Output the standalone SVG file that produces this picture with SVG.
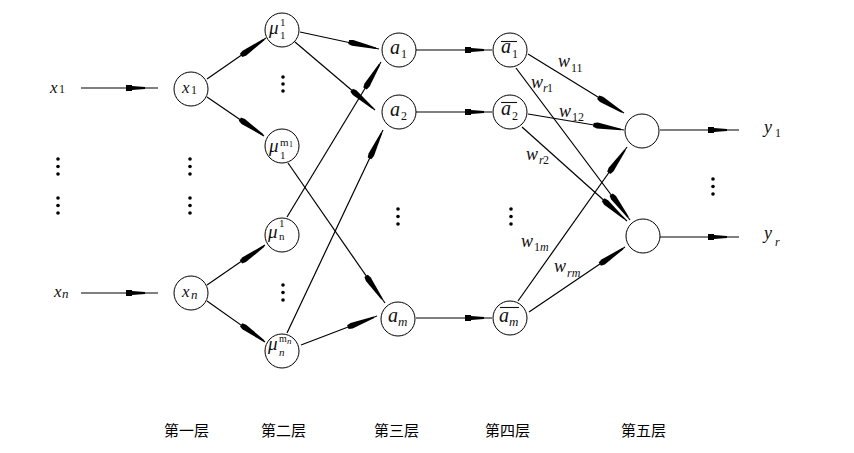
<svg xmlns="http://www.w3.org/2000/svg" xmlns:xlink="http://www.w3.org/1999/xlink" width="854" height="453" viewBox="0 0 854 453">
<style>
.ln{stroke:#000;stroke-width:1.2;fill:none}
.nd{fill:#fff;stroke:#000;stroke-width:1}
.v{font-family:"Liberation Serif",serif;font-style:italic;fill:#111}
.u{font-family:"Liberation Serif",serif;fill:#111}
.dot{fill:#000}
.cjk{font-family:"Noto Sans CJK SC",sans-serif;font-size:15px;fill:#000}
.ov{stroke:#111;stroke-width:1.1}
</style>
<defs>
<path id="ah" d="M-19,-3 H-13 V-2 L0,-0.9 V0.9 L-13,2 V3 H-19 Z" fill="#000"/>
<path id="ad" d="M-28,-2 L-24,-3 L0,-0.8 V0.8 L-24,3 L-28,2 Z" fill="#000"/>
</defs>
<rect width="854" height="453" fill="#fff"/>
<g id="connectors">
<line class="ln" x1="81" y1="88" x2="158" y2="88"/><use xlink:href="#ah" transform="translate(145,88)"/>
<line class="ln" x1="81" y1="293" x2="158" y2="293"/><use xlink:href="#ah" transform="translate(145,293)"/>
<line class="ln" x1="207" y1="79" x2="266" y2="38"/><use xlink:href="#ad" transform="translate(264,39.5) rotate(-34.8)"/>
<line class="ln" x1="207" y1="97" x2="264" y2="136"/><use xlink:href="#ad" transform="translate(263,135) rotate(34.4)"/>
<line class="ln" x1="207" y1="285" x2="265" y2="245"/><use xlink:href="#ad" transform="translate(264,246) rotate(-34.6)"/>
<line class="ln" x1="207" y1="301" x2="265" y2="342"/><use xlink:href="#ad" transform="translate(264,341) rotate(35.3)"/>
<line class="ln" x1="300" y1="32" x2="379" y2="49"/><use xlink:href="#ad" transform="translate(376,48.3) rotate(12.9)"/>
<line class="ln" x1="295" y1="42" x2="375" y2="110"/><use xlink:href="#ad" transform="translate(373,108.3) rotate(40.4)"/>
<line class="ln" x1="287" y1="217" x2="381" y2="62"/><use xlink:href="#ad" transform="translate(379.5,64.5) rotate(-58.8)"/>
<line class="ln" x1="288" y1="163" x2="385" y2="303"/><use xlink:href="#ad" transform="translate(382,299) rotate(55.3)"/>
<line class="ln" x1="287" y1="333" x2="383" y2="130"/><use xlink:href="#ad" transform="translate(381.5,133) rotate(-64.7)"/>
<line class="ln" x1="301" y1="345" x2="377" y2="316"/><use xlink:href="#ad" transform="translate(374,317.2) rotate(-20.9)"/>
<line class="ln" x1="416" y1="50" x2="492" y2="50"/><use xlink:href="#ah" transform="translate(484,50)"/>
<line class="ln" x1="416" y1="112" x2="492" y2="112"/><use xlink:href="#ah" transform="translate(484,112)"/>
<line class="ln" x1="416" y1="318" x2="492" y2="318"/><use xlink:href="#ah" transform="translate(484,318)"/>
<line class="ln" x1="528" y1="54" x2="624" y2="113"/><use xlink:href="#ad" transform="translate(622,112) rotate(31.6)"/>
<line class="ln" x1="516" y1="68" x2="630" y2="220"/><use xlink:href="#ad" transform="translate(628,217) rotate(53.1)"/>
<line class="ln" x1="528" y1="114" x2="624" y2="130"/><use xlink:href="#ad" transform="translate(621,129.5) rotate(9.5)"/>
<line class="ln" x1="522" y1="127" x2="627" y2="221"/><use xlink:href="#ad" transform="translate(624,218.5) rotate(41.8)"/>
<line class="ln" x1="518" y1="301" x2="627" y2="147"/><use xlink:href="#ad" transform="translate(625,150) rotate(-54.7)"/>
<line class="ln" x1="529" y1="312" x2="625" y2="247"/><use xlink:href="#ad" transform="translate(623,248.5) rotate(-34.1)"/>
<line class="ln" x1="660" y1="130" x2="739" y2="130"/><use xlink:href="#ah" transform="translate(727,130)"/>
<line class="ln" x1="660" y1="237" x2="739" y2="237"/><use xlink:href="#ah" transform="translate(727,237)"/>
</g>
<g id="in-x1"><text class="v" x="50" y="93" font-size="17">x</text><text class="u" x="59" y="93" font-size="12">1</text></g>
<g id="in-xn"><text class="v" x="54" y="297" font-size="17">x</text><text class="v" x="62" y="298" font-size="13">n</text></g>
<g id="node-x1"><circle class="nd" cx="191" cy="89" r="17"/><text class="v" x="182" y="93" font-size="17">x</text><text class="u" x="191" y="94" font-size="12">1</text></g>
<g id="node-xn"><circle class="nd" cx="191" cy="293" r="17"/><text class="v" x="182" y="297" font-size="17">x</text><text class="v" x="191" y="299" font-size="13">n</text></g>
<g id="node-mu11"><circle class="nd" cx="282" cy="30" r="17"/><text class="v" x="269" y="34" font-size="19">μ</text><text class="u" x="280" y="26" font-size="11">1</text><text class="u" x="280" y="39" font-size="11">1</text></g>
<g id="node-mu1m"><circle class="nd" cx="282" cy="146" r="17"/><text class="v" x="269" y="152" font-size="19">μ</text><text class="u" x="280" y="145.5" font-size="11">m</text><text class="u" x="289" y="147" font-size="8">1</text><text class="u" x="280" y="159" font-size="11">1</text></g>
<g id="node-mun1"><circle class="nd" cx="282" cy="235" r="17"/><text class="v" x="268" y="238" font-size="19">μ</text><text class="u" x="279" y="227" font-size="11">1</text><text class="u" x="279" y="240" font-size="11">n</text></g>
<g id="node-munm"><circle class="nd" cx="282" cy="351" r="17"/><text class="v" x="268" y="350" font-size="19">μ</text><text class="u" x="279" y="342" font-size="10">m</text><text class="v" x="287" y="344" font-size="9">n</text><text class="v" x="279" y="356" font-size="11">n</text></g>
<g id="node-a1"><circle class="nd" cx="399" cy="50" r="17"/><text class="v" x="390" y="54" font-size="20">a</text><text class="u" x="401" y="58" font-size="12">1</text></g>
<g id="node-a2"><circle class="nd" cx="399" cy="112" r="17"/><text class="v" x="390" y="116" font-size="20">a</text><text class="u" x="401" y="120" font-size="12">2</text></g>
<g id="node-am"><circle class="nd" cx="398" cy="319" r="17"/><text class="v" x="388" y="322" font-size="20">a</text><text class="v" x="398" y="326" font-size="13">m</text></g>
<g id="node-ab1"><circle class="nd" cx="510" cy="50" r="17"/><line class="ov" x1="501" y1="41.5" x2="517" y2="41.5"/><text class="v" x="501" y="53" font-size="20">a</text><text class="u" x="512" y="58" font-size="12">1</text></g>
<g id="node-ab2"><circle class="nd" cx="510" cy="112" r="17"/><line class="ov" x1="501" y1="102.5" x2="517" y2="102.5"/><text class="v" x="501" y="115" font-size="20">a</text><text class="u" x="512" y="120" font-size="12">2</text></g>
<g id="node-abm"><circle class="nd" cx="510" cy="318" r="17"/><line class="ov" x1="500" y1="307.5" x2="519" y2="307.5"/><text class="v" x="499" y="322" font-size="20">a</text><text class="v" x="509" y="326" font-size="13">m</text></g>
<g id="node-o1"><circle class="nd" cx="642" cy="131" r="17"/></g>
<g id="node-o2"><circle class="nd" cx="643" cy="236" r="17"/></g>
<g id="weights">
<text class="v" x="558" y="67" font-size="18">w</text><text class="u" x="571" y="72" font-size="12">11</text>
<text class="v" x="531" y="88" font-size="18">w</text><text class="v" x="543" y="92" font-size="12">r</text><text class="u" x="547" y="92" font-size="12">1</text>
<text class="v" x="559" y="117" font-size="18">w</text><text class="u" x="572" y="121" font-size="12">12</text>
<text class="v" x="526" y="160" font-size="18">w</text><text class="v" x="539" y="164" font-size="12">r</text><text class="u" x="543" y="164" font-size="12">2</text>
<text class="v" x="521" y="247" font-size="18">w</text><text class="u" x="534" y="251" font-size="12">1</text><text class="v" x="540" y="251" font-size="12">m</text>
<text class="v" x="554" y="272" font-size="18">w</text><text class="v" x="567" y="277" font-size="12">rm</text>
</g>
<g id="out-y1"><text class="v" x="764" y="133" font-size="18">y</text><text class="u" x="775" y="137" font-size="12">1</text></g>
<g id="out-yr"><text class="v" x="764" y="239" font-size="18">y</text><text class="v" x="775" y="246" font-size="12">r</text></g>
<g id="ellipses">
<circle class="dot" cx="58" cy="159" r="1.8"/><circle class="dot" cx="58" cy="166.5" r="1.8"/><circle class="dot" cx="58" cy="174" r="1.8"/>
<circle class="dot" cx="58" cy="198" r="1.8"/><circle class="dot" cx="58" cy="205.5" r="1.8"/><circle class="dot" cx="58" cy="213" r="1.8"/>
<circle class="dot" cx="190" cy="159" r="1.8"/><circle class="dot" cx="190" cy="166.5" r="1.8"/><circle class="dot" cx="190" cy="174" r="1.8"/>
<circle class="dot" cx="190" cy="198" r="1.8"/><circle class="dot" cx="190" cy="205.5" r="1.8"/><circle class="dot" cx="190" cy="213" r="1.8"/>
<circle class="dot" cx="283" cy="77" r="1.8"/><circle class="dot" cx="283" cy="84" r="1.8"/><circle class="dot" cx="283" cy="91" r="1.8"/>
<circle class="dot" cx="283" cy="285" r="1.8"/><circle class="dot" cx="283" cy="292.5" r="1.8"/><circle class="dot" cx="283" cy="300" r="1.8"/>
<circle class="dot" cx="398" cy="209" r="1.8"/><circle class="dot" cx="398" cy="216.5" r="1.8"/><circle class="dot" cx="398" cy="224" r="1.8"/>
<circle class="dot" cx="511" cy="209" r="1.8"/><circle class="dot" cx="511" cy="216.5" r="1.8"/><circle class="dot" cx="511" cy="224" r="1.8"/>
<circle class="dot" cx="713" cy="179" r="1.8"/><circle class="dot" cx="713" cy="186.5" r="1.8"/><circle class="dot" cx="713" cy="194" r="1.8"/>
</g>
<g id="layer-labels">
<text class="cjk" x="164" y="436">第一层</text>
<text class="cjk" x="261" y="436">第二层</text>
<text class="cjk" x="374" y="436">第三层</text>
<text class="cjk" x="485" y="436">第四层</text>
<text class="cjk" x="621" y="436">第五层</text>
</g>
</svg>
